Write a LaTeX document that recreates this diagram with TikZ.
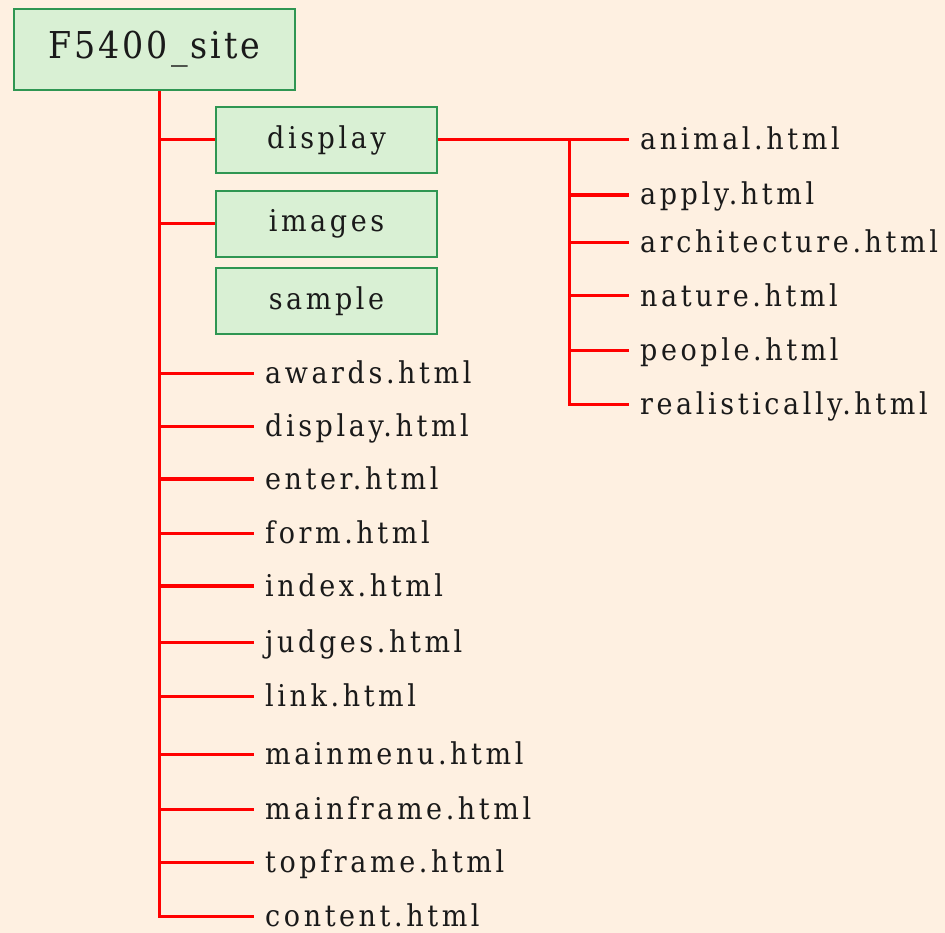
\documentclass[tikz,border=0pt]{standalone}
\usepackage{fontspec}
\setmainfont{DejaVu Serif Condensed}[LetterSpace=12]
\definecolor{bgpeach}{HTML}{FEF0E1}
\definecolor{boxfill}{HTML}{D9F0D4}
\definecolor{boxline}{HTML}{2F9652}
\definecolor{wirered}{HTML}{FF0000}
\definecolor{ink}{HTML}{1A1A1A}
\begin{document}
\begin{tikzpicture}[x=1pt,y=-1pt,
  wire/.style={draw=wirered,line width=3pt},
  wirebold/.style={draw=wirered,line width=4pt},
  folder/.style={draw=boxline,fill=boxfill,line width=2.4pt,minimum width=221pt,minimum height=66pt,inner sep=0pt,text=ink,font=\fontsize{30pt}{33pt}\selectfont},
  rootbox/.style={draw=boxline,fill=boxfill,line width=2.4pt,minimum width=281pt,minimum height=81pt,inner sep=0pt,text=ink,font=\fontsize{37pt}{40pt}\selectfont\addfontfeature{LetterSpace=8}},
  file/.style={anchor=west,inner xsep=11pt,inner ysep=0pt,text height=24pt,text depth=4pt,text=ink,font=\fontsize{30pt}{33pt}\selectfont}]
\useasboundingbox (0,0) rectangle (945,933);
\fill[bgpeach] (0,0) rectangle (945,933);
% nodes
\node[rootbox] (root) at (154.5,49.5) {F5400\_site};
\node[folder] (display) at (326.5,140) {display};
\node[folder] (images) at (326.5,224) {images};
\node[folder] (sample) at (326.5,301) {sample};
\coordinate (trunk) at (159,0);
\coordinate (sub) at (569,0);
% left files
\node[file] (awards) at (254,373) {awards.html};
\node[file] (displayh) at (254,426) {display.html};
\node[file] (enter) at (254,479) {enter.html};
\node[file] (form) at (254,533) {form.html};
\node[file] (index) at (254,586) {index.html};
\node[file] (judges) at (254,642) {judges.html};
\node[file] (link) at (254,696) {link.html};
\node[file] (mainmenu) at (254,754) {mainmenu.html};
\node[file] (mainframe) at (254,809) {mainframe.html};
\node[file] (topframe) at (254,862) {topframe.html};
\node[file] (content) at (254,916) {content.html};
% right files
\node[file] (animal) at (629,140) {animal.html};
\node[file] (apply) at (629,195) {apply.html};
\node[file] (architecture) at (629,243) {architecture.html};
\node[file] (nature) at (629,296) {nature.html};
\node[file] (people) at (629,350) {people.html};
\node[file] (realistically) at (629,404) {realistically.html};
% trunk
\draw[wire] (root.south -| trunk) -- (trunk |- content.west) -- (content.west);
\draw[wire] (trunk |- display.west) -- (display.west);
\draw[wire] (trunk |- images.west) -- (images.west);
\foreach \n in {awards,displayh,form,judges,link,mainmenu,mainframe,topframe}
  \draw[wire] (trunk |- \n.west) -- (\n.west);
\foreach \n in {enter,index}
  \draw[wirebold] (trunk |- \n.west) -- (\n.west);
% display subtree
\draw[wire] (display.east) -- (animal.west);
\draw[wire] (sub |- animal.west) -- (sub |- realistically.west) -- (realistically.west);
\foreach \n in {architecture,nature,people}
  \draw[wire] (sub |- \n.west) -- (\n.west);
\draw[wirebold] (sub |- apply.west) -- (apply.west);
\end{tikzpicture}
\end{document}
